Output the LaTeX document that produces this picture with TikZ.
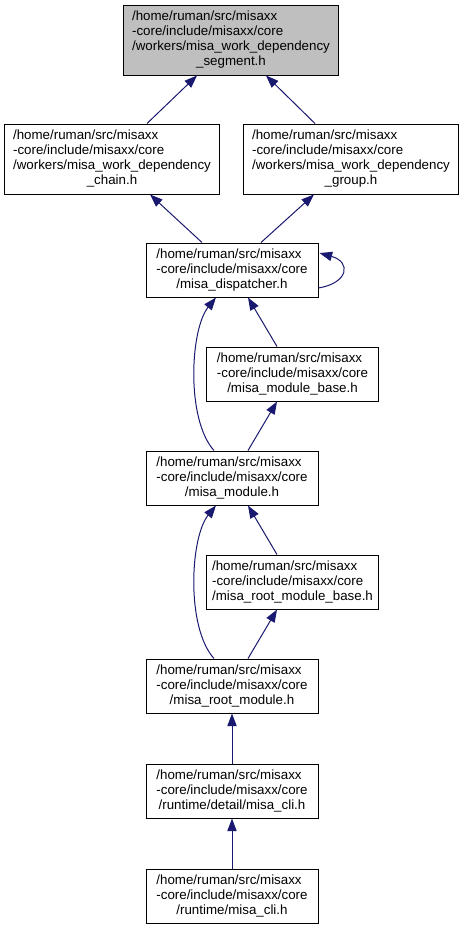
\documentclass[tikz,border=0pt]{standalone}
\usepackage{fontspec}
\setmainfont{Liberation Sans}
\usetikzlibrary{arrows.meta,positioning}
\definecolor{edgeblue}{HTML}{191970}
\definecolor{curgray}{HTML}{BFBFBF}
\newcommand{\flines}[2]{\begin{tabular}{@{}l@{}}#1\\\multicolumn{1}{@{}c@{}}{#2}\end{tabular}}

\begin{document}
\begin{tikzpicture}[x=0.75pt,y=-0.75pt,
  file/.style={rectangle,draw=black,line width=0.75pt,fill=white,inner sep=0pt,minimum width=129pt,minimum height=40.5pt,font=\fontsize{10}{11.25}\selectfont},
  widefile/.style={file,minimum width=161.25pt,minimum height=52.5pt},
  dep/.style={draw=edgeblue,line width=0.75pt,-{Triangle[length=9.5pt,width=7pt]}}]
\useasboundingbox (0,0) rectangle (464,928);
\node[widefile,fill=curgray](seg) at (231,40){\flines{/home/ruman/src/misaxx\\-core/include/misaxx/core\\/workers/misa\_work\_dependency}{\_segment.h}};
\node[widefile](chain) at (112,159){\flines{/home/ruman/src/misaxx\\-core/include/misaxx/core\\/workers/misa\_work\_dependency}{\_chain.h}};
\node[widefile](group) at (351,159){\flines{/home/ruman/src/misaxx\\-core/include/misaxx/core\\/workers/misa\_work\_dependency}{\_group.h}};
\node[file](disp) at (232,270){\flines{/home/ruman/src/misaxx\\-core/include/misaxx/core}{/misa\_dispatcher.h}};
\node[file](mbase) at (292.5,374){\flines{/home/ruman/src/misaxx\\-core/include/misaxx/core}{/misa\_module\_base.h}};
\node[file](module) at (232,478){\flines{/home/ruman/src/misaxx\\-core/include/misaxx/core}{/misa\_module.h}};
\node[file](rbase) at (292.5,582){\flines{/home/ruman/src/misaxx\\-core/include/misaxx/core}{/misa\_root\_module\_base.h}};
\node[file](root) at (232,686){\flines{/home/ruman/src/misaxx\\-core/include/misaxx/core}{/misa\_root\_module.h}};
\node[file,below=37.5pt of root](detail){\flines{/home/ruman/src/misaxx\\-core/include/misaxx/core}{/runtime/detail/misa\_cli.h}};
\node[file,below=37.5pt of detail](cli){\flines{/home/ruman/src/misaxx\\-core/include/misaxx/core}{/runtime/misa\_cli.h}};
% includes point up to the file they include
\draw[dep] ([shift={(35,0)}]chain.north) -- ([shift={(-34,0)}]seg.south);
\draw[dep] ([shift={(-36,0)}]group.north) -- ([shift={(35,0)}]seg.south);
\draw[dep] ([shift={(-30,0)}]disp.north) -- ([shift={(38,0)}]chain.south);
\draw[dep] ([shift={(29,0)}]disp.north) -- ([shift={(-37,0)}]group.south);
\draw[dep] ([shift={(0,18)}]disp.east) .. controls +(30,-5) and +(32,9) .. ([shift={(1,-17)}]disp.east);
\draw[dep] ([shift={(-15.5,0)}]mbase.north) -- ([shift={(16,0)}]disp.south);
\draw[dep] ([shift={(-18,0)}]module.north) .. controls +(-28,-31) and +(-26,32) .. ([shift={(-16,0)}]disp.south);
\draw[dep] ([shift={(16,0)}]module.north) -- ([shift={(-15.5,0)}]mbase.south);
\draw[dep] ([shift={(-15.5,0)}]rbase.north) -- ([shift={(16,0)}]module.south);
\draw[dep] ([shift={(-18,0)}]root.north) .. controls +(-28,-31) and +(-26,32) .. ([shift={(-16,0)}]module.south);
\draw[dep] ([shift={(16,0)}]root.north) -- ([shift={(-15.5,0)}]rbase.south);
\draw[dep] (detail) -- (root);
\draw[dep] (cli) -- (detail);
\end{tikzpicture}
\end{document}
